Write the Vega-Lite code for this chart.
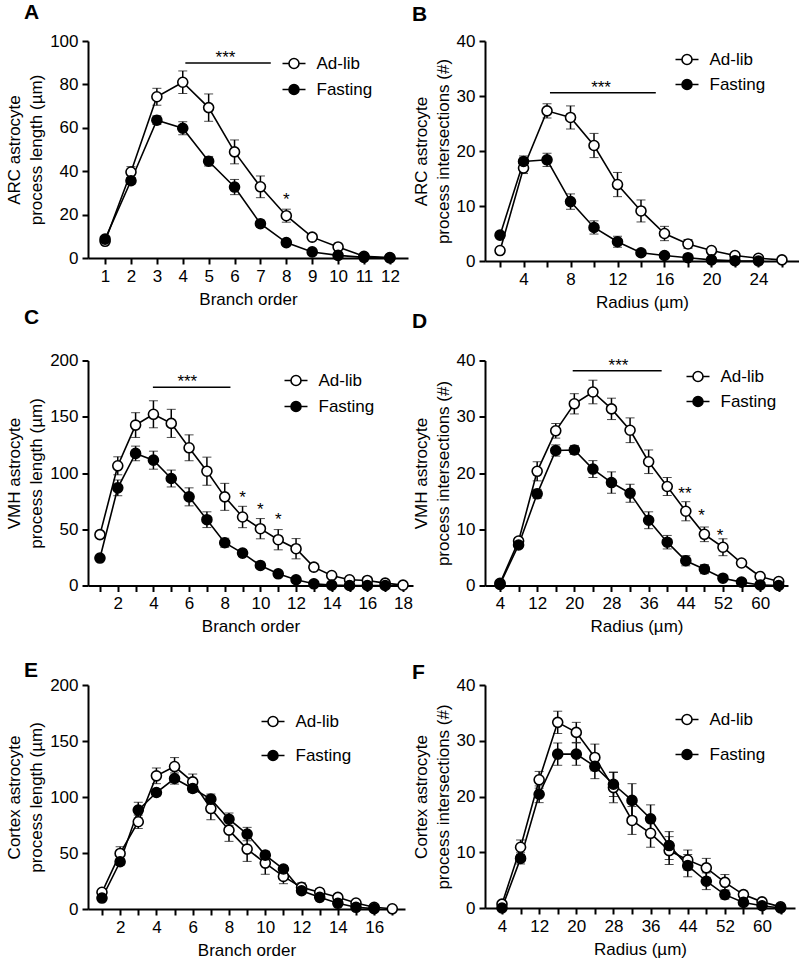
{
"$schema": "https://vega.github.io/schema/vega-lite/v6.json",
"padding": {"left": 5, "top": 2, "right": 0, "bottom": 0},
"background": "white",
"config": {
  "font": "Liberation Sans",
  "view": {"stroke": null},
  "axis": {"domainColor": "black", "domainWidth": 2, "tickColor": "black", "tickWidth": 2, "tickSize": 6, "labelFont": "Liberation Sans", "labelFontSize": 17, "labelColor": "black", "labelPadding": 4, "titleFont": "Liberation Sans", "titleFontSize": 17, "titleFontWeight": "normal", "titleColor": "black", "grid": false, "labelFlush": false, "labelOverlap": false, "labelBound": false},
  "axisY": {"titlePadding": 4, "titleLineHeight": 22},
  "axisX": {"titlePadding": 7},
  "legend": {"orient": "none", "symbolType": "M-2.3,0L-1,0M1,0L2.3,0M-1,0A1,1,0,1,1,1,0A1,1,0,1,1,-1,0Z", "symbolSize": 100, "symbolStrokeColor": "black", "symbolStrokeWidth": 1.6, "labelFont": "Liberation Sans", "labelFontSize": 17, "labelColor": "black", "labelOffset": 14, "padding": 0},
  "title": {"font": "Liberation Sans", "fontSize": 21, "fontWeight": "bold", "anchor": "start", "frame": "group", "baseline": "alphabetic", "color": "black"}
},
"datasets": {
  "A": [
    {"g":"Ad-lib","x":1,"y":7.7,"lo":6.7,"hi":8.7},{"g":"Ad-lib","x":2,"y":39.6,"lo":37.1,"hi":42.1},{"g":"Ad-lib","x":3,"y":74.3,"lo":70.4,"hi":78.2},{"g":"Ad-lib","x":4,"y":81,"lo":75.8,"hi":86.2},{"g":"Ad-lib","x":5,"y":69.3,"lo":63,"hi":75.6},{"g":"Ad-lib","x":6,"y":48.9,"lo":43.4,"hi":54.4},{"g":"Ad-lib","x":7,"y":32.8,"lo":27.8,"hi":37.8},{"g":"Ad-lib","x":8,"y":19.5,"lo":16.5,"hi":22.5},{"g":"Ad-lib","x":9,"y":9.6,"lo":8.4,"hi":10.8},{"g":"Ad-lib","x":10,"y":5.1,"lo":4.1,"hi":6.1},{"g":"Ad-lib","x":11,"y":0.8,"lo":0.3,"hi":1.3},{"g":"Ad-lib","x":12,"y":0.2,"lo":0,"hi":0.4},
    {"g":"Fasting","x":1,"y":8.7,"lo":7.7,"hi":9.7},{"g":"Fasting","x":2,"y":35.6,"lo":34.1,"hi":37.1},{"g":"Fasting","x":3,"y":63.5,"lo":61.5,"hi":65.5},{"g":"Fasting","x":4,"y":59.8,"lo":56.8,"hi":62.8},{"g":"Fasting","x":5,"y":44.6,"lo":42.4,"hi":46.8},{"g":"Fasting","x":6,"y":32.7,"lo":29.2,"hi":36.2},{"g":"Fasting","x":7,"y":15.8,"lo":14.3,"hi":17.3},{"g":"Fasting","x":8,"y":7.1,"lo":6.1,"hi":8.1},{"g":"Fasting","x":9,"y":2.8,"lo":2,"hi":3.6},{"g":"Fasting","x":10,"y":1.2,"lo":0.7,"hi":1.7},{"g":"Fasting","x":11,"y":0.3,"lo":0.1,"hi":0.5},{"g":"Fasting","x":12,"y":0,"lo":0,"hi":0}
  ],
  "B": [
    {"g":"Ad-lib","x":2,"y":1.9,"lo":1.5,"hi":2.3},{"g":"Ad-lib","x":4,"y":16.9,"lo":15.9,"hi":17.9},{"g":"Ad-lib","x":6,"y":27.3,"lo":26,"hi":28.6},{"g":"Ad-lib","x":8,"y":26.1,"lo":24,"hi":28.2},{"g":"Ad-lib","x":10,"y":21,"lo":18.8,"hi":23.2},{"g":"Ad-lib","x":12,"y":13.9,"lo":11.7,"hi":16.1},{"g":"Ad-lib","x":14,"y":9.1,"lo":7.1,"hi":11.1},{"g":"Ad-lib","x":16,"y":5,"lo":3.7,"hi":6.3},{"g":"Ad-lib","x":18,"y":3.1,"lo":2.3,"hi":3.9},{"g":"Ad-lib","x":20,"y":1.9,"lo":1.4,"hi":2.4},{"g":"Ad-lib","x":22,"y":1,"lo":0.7,"hi":1.3},{"g":"Ad-lib","x":24,"y":0.5,"lo":0.3,"hi":0.7},{"g":"Ad-lib","x":26,"y":0.2,"lo":0.1,"hi":0.3},
    {"g":"Fasting","x":2,"y":4.7,"lo":4.2,"hi":5.2},{"g":"Fasting","x":4,"y":18.1,"lo":17.1,"hi":19.1},{"g":"Fasting","x":6,"y":18.4,"lo":17.2,"hi":19.6},{"g":"Fasting","x":8,"y":10.8,"lo":9.4,"hi":12.2},{"g":"Fasting","x":10,"y":6.1,"lo":4.9,"hi":7.3},{"g":"Fasting","x":12,"y":3.5,"lo":2.5,"hi":4.5},{"g":"Fasting","x":14,"y":1.5,"lo":1,"hi":2},{"g":"Fasting","x":16,"y":1,"lo":0.7,"hi":1.3},{"g":"Fasting","x":18,"y":0.6,"lo":0.4,"hi":0.8},{"g":"Fasting","x":20,"y":0.2,"lo":0.1,"hi":0.3},{"g":"Fasting","x":22,"y":0.05,"lo":0.05,"hi":0.05},{"g":"Fasting","x":24,"y":0,"lo":0,"hi":0}
  ],
  "C": [
    {"g":"Ad-lib","x":1,"y":45.2,"lo":42.7,"hi":47.7},{"g":"Ad-lib","x":2,"y":106.4,"lo":98.4,"hi":114.4},{"g":"Ad-lib","x":3,"y":142.6,"lo":131.6,"hi":153.6},{"g":"Ad-lib","x":4,"y":152.2,"lo":140.2,"hi":164.2},{"g":"Ad-lib","x":5,"y":144.1,"lo":131.6,"hi":156.6},{"g":"Ad-lib","x":6,"y":122.4,"lo":110.9,"hi":133.9},{"g":"Ad-lib","x":7,"y":101.6,"lo":89.1,"hi":114.1},{"g":"Ad-lib","x":8,"y":78.8,"lo":66.8,"hi":90.8},{"g":"Ad-lib","x":9,"y":60.9,"lo":51.4,"hi":70.4},{"g":"Ad-lib","x":10,"y":50.5,"lo":41.5,"hi":59.5},{"g":"Ad-lib","x":11,"y":40.7,"lo":31.7,"hi":49.7},{"g":"Ad-lib","x":12,"y":32.7,"lo":23.7,"hi":41.7},{"g":"Ad-lib","x":13,"y":16.3,"lo":13.3,"hi":19.3},{"g":"Ad-lib","x":14,"y":8.9,"lo":6.9,"hi":10.9},{"g":"Ad-lib","x":15,"y":5.1,"lo":3.6,"hi":6.6},{"g":"Ad-lib","x":16,"y":4.5,"lo":3,"hi":6},{"g":"Ad-lib","x":17,"y":2.1,"lo":1.1,"hi":3.1},{"g":"Ad-lib","x":18,"y":0.3,"lo":0,"hi":0.6},
    {"g":"Fasting","x":1,"y":24.4,"lo":22.9,"hi":25.9},{"g":"Fasting","x":2,"y":86.8,"lo":79.8,"hi":93.8},{"g":"Fasting","x":3,"y":117.4,"lo":110.9,"hi":123.9},{"g":"Fasting","x":4,"y":111.4,"lo":103.4,"hi":119.4},{"g":"Fasting","x":5,"y":95.1,"lo":87.6,"hi":102.6},{"g":"Fasting","x":6,"y":78.8,"lo":70.8,"hi":86.8},{"g":"Fasting","x":7,"y":58.5,"lo":51.5,"hi":65.5},{"g":"Fasting","x":8,"y":38,"lo":34,"hi":42},{"g":"Fasting","x":9,"y":28.8,"lo":25.8,"hi":31.8},{"g":"Fasting","x":10,"y":17.8,"lo":15.8,"hi":19.8},{"g":"Fasting","x":11,"y":10.4,"lo":8.9,"hi":11.9},{"g":"Fasting","x":12,"y":5.1,"lo":4.1,"hi":6.1},{"g":"Fasting","x":13,"y":1.5,"lo":1,"hi":2},{"g":"Fasting","x":14,"y":0.3,"lo":0.1,"hi":0.5},{"g":"Fasting","x":15,"y":0,"lo":0,"hi":0},{"g":"Fasting","x":16,"y":0,"lo":0,"hi":0},{"g":"Fasting","x":17,"y":0,"lo":0,"hi":0}
  ],
  "D": [
    {"g":"Ad-lib","x":4,"y":0.4,"lo":0.2,"hi":0.6},{"g":"Ad-lib","x":8,"y":7.9,"lo":7.3,"hi":8.5},{"g":"Ad-lib","x":12,"y":20.3,"lo":18.6,"hi":22},{"g":"Ad-lib","x":16,"y":27.5,"lo":26.2,"hi":28.8},{"g":"Ad-lib","x":20,"y":32.3,"lo":30.5,"hi":34.1},{"g":"Ad-lib","x":24,"y":34.4,"lo":32.3,"hi":36.5},{"g":"Ad-lib","x":28,"y":31.4,"lo":29.5,"hi":33.3},{"g":"Ad-lib","x":32,"y":27.6,"lo":25.4,"hi":29.8},{"g":"Ad-lib","x":36,"y":22,"lo":19.9,"hi":24.1},{"g":"Ad-lib","x":40,"y":17.6,"lo":16,"hi":19.2},{"g":"Ad-lib","x":44,"y":13.2,"lo":11.5,"hi":14.9},{"g":"Ad-lib","x":48,"y":9.1,"lo":7.8,"hi":10.4},{"g":"Ad-lib","x":52,"y":6.8,"lo":5.3,"hi":8.3},{"g":"Ad-lib","x":56,"y":4,"lo":3.5,"hi":4.5},{"g":"Ad-lib","x":60,"y":1.6,"lo":1.2,"hi":2},{"g":"Ad-lib","x":64,"y":0.7,"lo":0.5,"hi":0.9},
    {"g":"Fasting","x":4,"y":0.2,"lo":0.1,"hi":0.3},{"g":"Fasting","x":8,"y":7.2,"lo":6.7,"hi":7.7},{"g":"Fasting","x":12,"y":16.3,"lo":15.5,"hi":17.1},{"g":"Fasting","x":16,"y":24,"lo":23,"hi":25},{"g":"Fasting","x":20,"y":24.1,"lo":23.3,"hi":24.9},{"g":"Fasting","x":24,"y":20.7,"lo":19.2,"hi":22.2},{"g":"Fasting","x":28,"y":18.3,"lo":16.4,"hi":20.2},{"g":"Fasting","x":32,"y":16.4,"lo":14.8,"hi":18},{"g":"Fasting","x":36,"y":11.6,"lo":10.1,"hi":13.1},{"g":"Fasting","x":40,"y":7.7,"lo":6.5,"hi":8.9},{"g":"Fasting","x":44,"y":4.4,"lo":3.5,"hi":5.3},{"g":"Fasting","x":48,"y":2.9,"lo":2.1,"hi":3.7},{"g":"Fasting","x":52,"y":1.3,"lo":0.9,"hi":1.7},{"g":"Fasting","x":56,"y":0.6,"lo":0.4,"hi":0.8},{"g":"Fasting","x":60,"y":0.1,"lo":0,"hi":0.2},{"g":"Fasting","x":64,"y":0,"lo":0,"hi":0}
  ],
  "E": [
    {"g":"Ad-lib","x":1,"y":14.9,"lo":12.9,"hi":16.9},{"g":"Ad-lib","x":2,"y":49.6,"lo":43.6,"hi":55.6},{"g":"Ad-lib","x":3,"y":77.9,"lo":71.9,"hi":83.9},{"g":"Ad-lib","x":4,"y":118.9,"lo":111.9,"hi":125.9},{"g":"Ad-lib","x":5,"y":127.2,"lo":119.2,"hi":135.2},{"g":"Ad-lib","x":6,"y":113.5,"lo":106.5,"hi":120.5},{"g":"Ad-lib","x":7,"y":89.7,"lo":79.7,"hi":99.7},{"g":"Ad-lib","x":8,"y":70.4,"lo":60.4,"hi":80.4},{"g":"Ad-lib","x":9,"y":53.5,"lo":42.5,"hi":64.5},{"g":"Ad-lib","x":10,"y":41,"lo":31,"hi":51},{"g":"Ad-lib","x":11,"y":29.1,"lo":22.6,"hi":35.6},{"g":"Ad-lib","x":12,"y":19.3,"lo":15.3,"hi":23.3},{"g":"Ad-lib","x":13,"y":14.9,"lo":11.9,"hi":17.9},{"g":"Ad-lib","x":14,"y":10.4,"lo":8.4,"hi":12.4},{"g":"Ad-lib","x":15,"y":5.3,"lo":4.3,"hi":6.3},{"g":"Ad-lib","x":16,"y":1.5,"lo":1,"hi":2},{"g":"Ad-lib","x":17,"y":0.2,"lo":0,"hi":0.4},
    {"g":"Fasting","x":1,"y":9.8,"lo":8.8,"hi":10.8},{"g":"Fasting","x":2,"y":42.2,"lo":39.2,"hi":45.2},{"g":"Fasting","x":3,"y":88.3,"lo":81.3,"hi":95.3},{"g":"Fasting","x":4,"y":104,"lo":101,"hi":107},{"g":"Fasting","x":5,"y":116.5,"lo":111.5,"hi":121.5},{"g":"Fasting","x":6,"y":107.6,"lo":104.1,"hi":111.1},{"g":"Fasting","x":7,"y":98.1,"lo":93.6,"hi":102.6},{"g":"Fasting","x":8,"y":80.2,"lo":74.7,"hi":85.7},{"g":"Fasting","x":9,"y":66.9,"lo":60.9,"hi":72.9},{"g":"Fasting","x":10,"y":48.1,"lo":44.6,"hi":51.6},{"g":"Fasting","x":11,"y":35.7,"lo":32.7,"hi":38.7},{"g":"Fasting","x":12,"y":16.3,"lo":14.3,"hi":18.3},{"g":"Fasting","x":13,"y":10.4,"lo":8.9,"hi":11.9},{"g":"Fasting","x":14,"y":5.1,"lo":4.1,"hi":6.1},{"g":"Fasting","x":15,"y":1.5,"lo":1,"hi":2},{"g":"Fasting","x":16,"y":0.3,"lo":0.1,"hi":0.5}
  ],
  "F": [
    {"g":"Ad-lib","x":4,"y":0.7,"lo":0.4,"hi":1},{"g":"Ad-lib","x":8,"y":10.9,"lo":9.6,"hi":12.2},{"g":"Ad-lib","x":12,"y":23,"lo":21.5,"hi":24.5},{"g":"Ad-lib","x":16,"y":33.3,"lo":31.3,"hi":35.3},{"g":"Ad-lib","x":20,"y":31.5,"lo":29.7,"hi":33.3},{"g":"Ad-lib","x":24,"y":27,"lo":24.6,"hi":29.4},{"g":"Ad-lib","x":28,"y":21.6,"lo":18.9,"hi":24.3},{"g":"Ad-lib","x":32,"y":15.7,"lo":13.2,"hi":18.2},{"g":"Ad-lib","x":36,"y":13.4,"lo":10.9,"hi":15.9},{"g":"Ad-lib","x":40,"y":10.3,"lo":7.8,"hi":12.8},{"g":"Ad-lib","x":44,"y":8.6,"lo":6.8,"hi":10.4},{"g":"Ad-lib","x":48,"y":7.2,"lo":5.5,"hi":8.9},{"g":"Ad-lib","x":52,"y":4.6,"lo":3.2,"hi":6},{"g":"Ad-lib","x":56,"y":2.4,"lo":1.8,"hi":3},{"g":"Ad-lib","x":60,"y":1.1,"lo":0.7,"hi":1.5},{"g":"Ad-lib","x":64,"y":0.2,"lo":0.1,"hi":0.3},
    {"g":"Fasting","x":4,"y":0,"lo":0,"hi":0},{"g":"Fasting","x":8,"y":8.9,"lo":7.9,"hi":9.9},{"g":"Fasting","x":12,"y":20.4,"lo":18.9,"hi":21.9},{"g":"Fasting","x":16,"y":27.6,"lo":25.6,"hi":29.6},{"g":"Fasting","x":20,"y":27.6,"lo":25.6,"hi":29.6},{"g":"Fasting","x":24,"y":25.4,"lo":23.2,"hi":27.6},{"g":"Fasting","x":28,"y":22.2,"lo":20,"hi":24.4},{"g":"Fasting","x":32,"y":19.3,"lo":16.3,"hi":22.3},{"g":"Fasting","x":36,"y":16,"lo":13.5,"hi":18.5},{"g":"Fasting","x":40,"y":11.2,"lo":8.7,"hi":13.7},{"g":"Fasting","x":44,"y":7.6,"lo":5.6,"hi":9.6},{"g":"Fasting","x":48,"y":4.8,"lo":3.3,"hi":6.3},{"g":"Fasting","x":52,"y":2.4,"lo":1.6,"hi":3.2},{"g":"Fasting","x":56,"y":1,"lo":0.5,"hi":1.5},{"g":"Fasting","x":60,"y":0.4,"lo":0.2,"hi":0.6},{"g":"Fasting","x":64,"y":0,"lo":0,"hi":0}
  ],
  "sigA": [{"x1":4.1,"x2":7.4,"xm":5.65,"y":89.9,"t":"***"}],
  "starA": [{"x":8,"y":24.4,"t":"*"}],
  "sigB": [{"x1":6.25,"x2":15.26,"xm":10.6,"y":30.6,"t":"***"}],
  "sigC": [{"x1":3.97,"x2":8.32,"xm":5.9,"y":176.2,"t":"***"}],
  "starC": [{"x":9,"y":73,"t":"*"},{"x":10,"y":62.6,"t":"*"},{"x":11,"y":53.7,"t":"*"}],
  "sigD": [{"x1":19.65,"x2":38.8,"xm":29.5,"y":38.2,"t":"***"}],
  "starD": [{"x":43.8,"y":15.4,"t":"**"},{"x":47.4,"y":11.5,"t":"*"},{"x":51.4,"y":8,"t":"*"}]
},
"columns": 2,
"bounds": "flush",
"spacing": {"row": 99.5, "column": 72},
"resolve": {"scale": {"fill": "independent"}, "legend": {"fill": "independent"}},
"concat": [
  {
    "width": 320, "height": 217,
    "title": {"text": "\u00a0A", "offset": 9, "dx": -64},
    "resolve": {"axis": {"x": "independent"}},
    "layer": [
      {"data": {"name": "A"}, "mark": {"type": "errorbar", "ticks": {"size": 9, "color": "black", "strokeWidth": 1.5}, "rule": {"color": "black", "strokeWidth": 1.5}},
       "encoding": {
         "x": {"field": "x", "type": "quantitative", "scale": {"domain": [0.34, 12.7], "nice": false, "zero": false}, "axis": {"orient": "bottom", "values": [1,3,5,7,9,11], "title": "Branch order"}},
         "y": {"field": "lo", "type": "quantitative", "scale": {"domain": [0, 100], "nice": false}, "axis": {"values": [0,20,40,60,80,100], "title": ["ARC astrocyte", "process length (µm)"]}},
         "y2": {"field": "hi"}}},
      {"data": {"name": "A"}, "mark": {"type": "line", "color": "black", "strokeWidth": 1.6},
       "encoding": {"x": {"field": "x", "type": "quantitative", "axis": {"orient": "bottom", "values": [2,4,6,8,10,12], "domain": false, "title": null}}, "y": {"field": "y", "type": "quantitative"}, "detail": {"field": "g"}}},
      {"data": {"name": "A"}, "mark": {"type": "point", "filled": true, "size": 100, "stroke": "black", "strokeWidth": 1.6, "opacity": 1},
       "encoding": {"x": {"field": "x", "type": "quantitative", "axis": null}, "y": {"field": "y", "type": "quantitative"},
         "fill": {"field": "g", "type": "nominal", "scale": {"domain": ["Ad-lib", "Fasting"], "range": ["white", "black"]}, "legend": {"title": null, "legendX": 197.5, "legendY": 14, "rowPadding": 8}}}},
      {"data": {"name": "sigA"}, "mark": {"type": "rule", "color": "black", "strokeWidth": 1.5},
       "encoding": {"x": {"field": "x1", "type": "quantitative", "axis": null}, "x2": {"field": "x2"}, "y": {"field": "y", "type": "quantitative"}}},
      {"data": {"name": "sigA"}, "mark": {"type": "text", "fontSize": 17, "baseline": "alphabetic", "align": "center", "color": "black"},
       "encoding": {"x": {"field": "xm", "type": "quantitative", "axis": null}, "y": {"field": "y", "type": "quantitative"}, "text": {"field": "t"}}},
      {"data": {"name": "starA"}, "mark": {"type": "text", "fontSize": 17, "baseline": "alphabetic", "align": "center", "color": "black"},
       "encoding": {"x": {"field": "x", "type": "quantitative", "axis": null}, "y": {"field": "y", "type": "quantitative"}, "text": {"field": "t"}}}
    ]
  },
  {
    "width": 314, "height": 220,
    "title": {"text": "B", "offset": 7, "dx": -73},
    "resolve": {"axis": {"x": "independent"}},
    "layer": [
      {"data": {"name": "B"}, "mark": {"type": "errorbar", "ticks": {"size": 9, "color": "black", "strokeWidth": 1.5}, "rule": {"color": "black", "strokeWidth": 1.5}},
       "encoding": {
         "x": {"field": "x", "type": "quantitative", "scale": {"domain": [0.72, 27.45], "nice": false, "zero": false}, "axis": {"orient": "bottom", "values": [4,8,12,16,20,24], "title": "Radius (µm)"}},
         "y": {"field": "lo", "type": "quantitative", "scale": {"domain": [0, 40], "nice": false}, "axis": {"values": [0,10,20,30,40], "title": ["ARC astrocyte", "process intersections (#)"]}},
         "y2": {"field": "hi"}}},
      {"data": {"name": "B"}, "mark": {"type": "line", "color": "black", "strokeWidth": 1.6},
       "encoding": {"x": {"field": "x", "type": "quantitative", "axis": {"orient": "bottom", "values": [2,6,10,14,18,22,26], "labels": false, "domain": false, "title": null}}, "y": {"field": "y", "type": "quantitative"}, "detail": {"field": "g"}}},
      {"data": {"name": "B"}, "mark": {"type": "point", "filled": true, "size": 100, "stroke": "black", "strokeWidth": 1.6, "opacity": 1},
       "encoding": {"x": {"field": "x", "type": "quantitative", "axis": null}, "y": {"field": "y", "type": "quantitative"},
         "fill": {"field": "g", "type": "nominal", "scale": {"domain": ["Ad-lib", "Fasting"], "range": ["white", "black"]}, "legend": {"title": null, "legendX": 193.5, "legendY": 10, "rowPadding": 7}}}},
      {"data": {"name": "sigB"}, "mark": {"type": "rule", "color": "black", "strokeWidth": 1.5},
       "encoding": {"x": {"field": "x1", "type": "quantitative", "axis": null}, "x2": {"field": "x2"}, "y": {"field": "y", "type": "quantitative"}}},
      {"data": {"name": "sigB"}, "mark": {"type": "text", "fontSize": 17, "baseline": "alphabetic", "align": "center", "color": "black"},
       "encoding": {"x": {"field": "xm", "type": "quantitative", "axis": null}, "y": {"field": "y", "type": "quantitative"}, "text": {"field": "t"}}}
    ]
  },
  {
    "width": 325, "height": 225,
    "title": {"text": "\u00a0C", "offset": 24, "dx": -64},
    "resolve": {"axis": {"x": "independent"}},
    "layer": [
      {"data": {"name": "C"}, "mark": {"type": "errorbar", "ticks": {"size": 9, "color": "black", "strokeWidth": 1.5}, "rule": {"color": "black", "strokeWidth": 1.5}},
       "encoding": {
         "x": {"field": "x", "type": "quantitative", "scale": {"domain": [0.33, 18.56], "nice": false, "zero": false}, "axis": {"orient": "bottom", "values": [2,4,6,8,10,12,14,16,18], "title": "Branch order"}},
         "y": {"field": "lo", "type": "quantitative", "scale": {"domain": [0, 200], "nice": false}, "axis": {"values": [0,50,100,150,200], "title": ["VMH astrocyte", "process length (µm)"]}},
         "y2": {"field": "hi"}}},
      {"data": {"name": "C"}, "mark": {"type": "line", "color": "black", "strokeWidth": 1.6},
       "encoding": {"x": {"field": "x", "type": "quantitative", "axis": {"orient": "bottom", "values": [1,3,5,7,9,11,13,15,17], "labels": false, "domain": false, "title": null}}, "y": {"field": "y", "type": "quantitative"}, "detail": {"field": "g"}}},
      {"data": {"name": "C"}, "mark": {"type": "point", "filled": true, "size": 100, "stroke": "black", "strokeWidth": 1.6, "opacity": 1},
       "encoding": {"x": {"field": "x", "type": "quantitative", "axis": null}, "y": {"field": "y", "type": "quantitative"},
         "fill": {"field": "g", "type": "nominal", "scale": {"domain": ["Ad-lib", "Fasting"], "range": ["white", "black"]}, "legend": {"title": null, "legendX": 199.5, "legendY": 11.5, "rowPadding": 8}}}},
      {"data": {"name": "sigC"}, "mark": {"type": "rule", "color": "black", "strokeWidth": 1.5},
       "encoding": {"x": {"field": "x1", "type": "quantitative", "axis": null}, "x2": {"field": "x2"}, "y": {"field": "y", "type": "quantitative"}}},
      {"data": {"name": "sigC"}, "mark": {"type": "text", "fontSize": 17, "baseline": "alphabetic", "align": "center", "color": "black"},
       "encoding": {"x": {"field": "xm", "type": "quantitative", "axis": null}, "y": {"field": "y", "type": "quantitative"}, "text": {"field": "t"}}},
      {"data": {"name": "starC"}, "mark": {"type": "text", "fontSize": 17, "baseline": "alphabetic", "align": "center", "color": "black"},
       "encoding": {"x": {"field": "x", "type": "quantitative", "axis": null}, "y": {"field": "y", "type": "quantitative"}, "text": {"field": "t"}}}
    ]
  },
  {
    "width": 303, "height": 225,
    "title": {"text": "D", "offset": 20, "dx": -73},
    "resolve": {"axis": {"x": "independent"}},
    "layer": [
      {"data": {"name": "D"}, "mark": {"type": "errorbar", "ticks": {"size": 9, "color": "black", "strokeWidth": 1.5}, "rule": {"color": "black", "strokeWidth": 1.5}},
       "encoding": {
         "x": {"field": "x", "type": "quantitative", "scale": {"domain": [0.77, 66], "nice": false, "zero": false}, "axis": {"orient": "bottom", "values": [4,12,20,28,36,44,52,60], "title": "Radius (µm)"}},
         "y": {"field": "lo", "type": "quantitative", "scale": {"domain": [0, 40], "nice": false}, "axis": {"values": [0,10,20,30,40], "title": ["VMH astrocyte", "process intersections (#)"]}},
         "y2": {"field": "hi"}}},
      {"data": {"name": "D"}, "mark": {"type": "line", "color": "black", "strokeWidth": 1.6},
       "encoding": {"x": {"field": "x", "type": "quantitative", "axis": {"orient": "bottom", "values": [8,16,24,32,40,48,56,64], "labels": false, "domain": false, "title": null}}, "y": {"field": "y", "type": "quantitative"}, "detail": {"field": "g"}}},
      {"data": {"name": "D"}, "mark": {"type": "point", "filled": true, "size": 100, "stroke": "black", "strokeWidth": 1.6, "opacity": 1},
       "encoding": {"x": {"field": "x", "type": "quantitative", "axis": null}, "y": {"field": "y", "type": "quantitative"},
         "fill": {"field": "g", "type": "nominal", "scale": {"domain": ["Ad-lib", "Fasting"], "range": ["white", "black"]}, "legend": {"title": null, "legendX": 204.5, "legendY": 7.5, "rowPadding": 7}}}},
      {"data": {"name": "sigD"}, "mark": {"type": "rule", "color": "black", "strokeWidth": 1.5},
       "encoding": {"x": {"field": "x1", "type": "quantitative", "axis": null}, "x2": {"field": "x2"}, "y": {"field": "y", "type": "quantitative"}}},
      {"data": {"name": "sigD"}, "mark": {"type": "text", "fontSize": 17, "baseline": "alphabetic", "align": "center", "color": "black"},
       "encoding": {"x": {"field": "xm", "type": "quantitative", "axis": null}, "y": {"field": "y", "type": "quantitative"}, "text": {"field": "t"}}},
      {"data": {"name": "starD"}, "mark": {"type": "text", "fontSize": 17, "baseline": "alphabetic", "align": "center", "color": "black"},
       "encoding": {"x": {"field": "x", "type": "quantitative", "axis": null}, "y": {"field": "y", "type": "quantitative"}, "text": {"field": "t"}}}
    ]
  },
  {
    "width": 317, "height": 224,
    "title": {"text": "\u00a0E", "offset": -5, "dx": -64},
    "resolve": {"axis": {"x": "independent"}},
    "layer": [
      {"data": {"name": "E"}, "mark": {"type": "errorbar", "ticks": {"size": 9, "color": "black", "strokeWidth": 1.5}, "rule": {"color": "black", "strokeWidth": 1.5}},
       "encoding": {
         "x": {"field": "x", "type": "quantitative", "scale": {"domain": [0.23, 17.7], "nice": false, "zero": false}, "axis": {"orient": "bottom", "values": [2,4,6,8,10,12,14,16], "title": "Branch order"}},
         "y": {"field": "lo", "type": "quantitative", "scale": {"domain": [0, 200], "nice": false}, "axis": {"values": [0,50,100,150,200], "title": ["Cortex astrocyte", "process length (µm)"]}},
         "y2": {"field": "hi"}}},
      {"data": {"name": "E"}, "mark": {"type": "line", "color": "black", "strokeWidth": 1.6},
       "encoding": {"x": {"field": "x", "type": "quantitative", "axis": {"orient": "bottom", "values": [1,3,5,7,9,11,13,15,17], "labels": false, "domain": false, "title": null}}, "y": {"field": "y", "type": "quantitative"}, "detail": {"field": "g"}}},
      {"data": {"name": "E"}, "mark": {"type": "point", "filled": true, "size": 100, "stroke": "black", "strokeWidth": 1.6, "opacity": 1},
       "encoding": {"x": {"field": "x", "type": "quantitative", "axis": null}, "y": {"field": "y", "type": "quantitative"},
         "fill": {"field": "g", "type": "nominal", "scale": {"domain": ["Ad-lib", "Fasting"], "range": ["white", "black"]}, "legend": {"title": null, "legendX": 176.5, "legendY": 28, "rowPadding": 16}}}}
    ]
  },
  {
    "width": 310, "height": 223,
    "title": {"text": "F", "offset": -7, "dx": -73},
    "resolve": {"axis": {"x": "independent"}},
    "layer": [
      {"data": {"name": "F"}, "mark": {"type": "errorbar", "ticks": {"size": 9, "color": "black", "strokeWidth": 1.5}, "rule": {"color": "black", "strokeWidth": 1.5}},
       "encoding": {
         "x": {"field": "x", "type": "quantitative", "scale": {"domain": [0.34, 67.1], "nice": false, "zero": false}, "axis": {"orient": "bottom", "values": [4,12,20,28,36,44,52,60], "title": "Radius (µm)"}},
         "y": {"field": "lo", "type": "quantitative", "scale": {"domain": [0, 40], "nice": false}, "axis": {"values": [0,10,20,30,40], "title": ["Cortex astrocyte", "process intersections (#)"]}},
         "y2": {"field": "hi"}}},
      {"data": {"name": "F"}, "mark": {"type": "line", "color": "black", "strokeWidth": 1.6},
       "encoding": {"x": {"field": "x", "type": "quantitative", "axis": {"orient": "bottom", "values": [8,16,24,32,40,48,56,64], "labels": false, "domain": false, "title": null}}, "y": {"field": "y", "type": "quantitative"}, "detail": {"field": "g"}}},
      {"data": {"name": "F"}, "mark": {"type": "point", "filled": true, "size": 100, "stroke": "black", "strokeWidth": 1.6, "opacity": 1},
       "encoding": {"x": {"field": "x", "type": "quantitative", "axis": null}, "y": {"field": "y", "type": "quantitative"},
         "fill": {"field": "g", "type": "nominal", "scale": {"domain": ["Ad-lib", "Fasting"], "range": ["white", "black"]}, "legend": {"title": null, "legendX": 193.5, "legendY": 26, "rowPadding": 17}}}}
    ]
  }
]
}
